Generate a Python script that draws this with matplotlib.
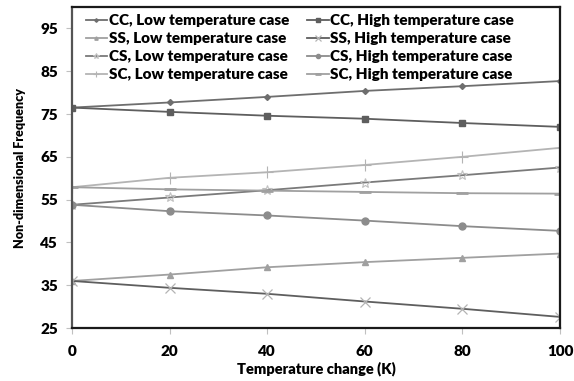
import matplotlib
matplotlib.use("Agg")
import matplotlib.pyplot as plt

plt.rcParams['font.family'] = ['Lato', 'DejaVu Sans']

temp = [0, 20, 40, 60, 80, 100]
cc_low = [76.5, 77.7, 79.0, 80.4, 81.5, 82.7]
cc_high = [76.5, 75.5, 74.6, 73.9, 72.9, 72.0]
ss_low = [36.0, 37.5, 39.2, 40.4, 41.4, 42.4]
ss_high = [36.0, 34.4, 33.0, 31.2, 29.5, 27.6]
cs_low = [53.8, 55.5, 57.2, 59.0, 60.7, 62.5]
cs_high = [53.8, 52.3, 51.3, 50.1, 48.8, 47.7]
sc_low = [57.9, 60.1, 61.4, 63.1, 65.0, 67.1]
sc_high = [57.9, 57.4, 57.1, 56.8, 56.5, 56.4]

xticks = [0, 20, 40, 60, 80, 100]
yticks = [25, 35, 45, 55, 65, 75, 85, 95]

fig = plt.figure(figsize=(5.74, 3.81), dpi=100)
ax = fig.add_axes([0.1254, 0.139, 0.8502, 0.8426])

lw = 1.3
ax.plot(temp, cc_low, color='#6e6e6e', lw=lw, marker='D', ms=3, label='CC, Low temperature case')
ax.plot(temp, ss_low, color='#a0a0a0', lw=lw, marker='^', ms=4, label='SS, Low temperature case')
ax.plot(temp, cs_low, color='#7a7a7a', lw=lw, marker='*', ms=7, mfc='none', mec='#c0c0c0', mew=0.8,
        label='CS, Low temperature case')
ax.plot(temp, sc_low, color='#b4b4b4', lw=lw, marker='+', ms=8, mew=0.8, label='SC, Low temperature case')
ax.plot(temp, cc_high, color='#5e5e5e', lw=lw, marker='s', ms=5, label='CC, High temperature case')
ax.plot(temp, ss_high, color='#5e5e5e', lw=lw, marker='x', ms=7, mec='#b4b4b4', mew=0.9,
        label='SS, High temperature case')
ax.plot(temp, cs_high, color='#8c8c8c', lw=lw, marker='o', ms=5, label='CS, High temperature case')
ax.plot(temp, sc_high, color='#a0a0a0', lw=lw, marker='_', ms=8, mew=2, label='SC, High temperature case')

ax.set_xlim(0, 100)
ax.set_ylim(25, 100)
ax.set_xticks(xticks)
ax.set_yticks(yticks)
ax.tick_params(axis='both', labelsize=11, direction='out', length=4, color='#c0c0c0', width=0.8)
for lab in ax.get_xticklabels() + ax.get_yticklabels():
    lab.set_fontweight('heavy')
ax.tick_params(axis='x', pad=8)
ax.tick_params(axis='y', pad=6)

for s in ax.spines.values():
    s.set_color('#1a1a1a')
    s.set_linewidth(1.6)
ax.spines['left'].set_color('#555555')

ax.set_xlabel('Temperature change (K)', fontsize=10.5, fontweight='heavy', labelpad=3)
ax.set_ylabel('Non-dimensional Frequency', fontsize=9, fontweight='heavy', labelpad=10)

leg = ax.legend(ncol=2, loc='upper left', bbox_to_anchor=(0.006, 1.012), frameon=False,
                prop={'weight': 'heavy', 'size': 11}, handlelength=1.4, handletextpad=0.1,
                columnspacing=1.2, labelspacing=0.33, borderpad=0.2, markerscale=0.6)

fig.savefig('out.png', dpi=100)
